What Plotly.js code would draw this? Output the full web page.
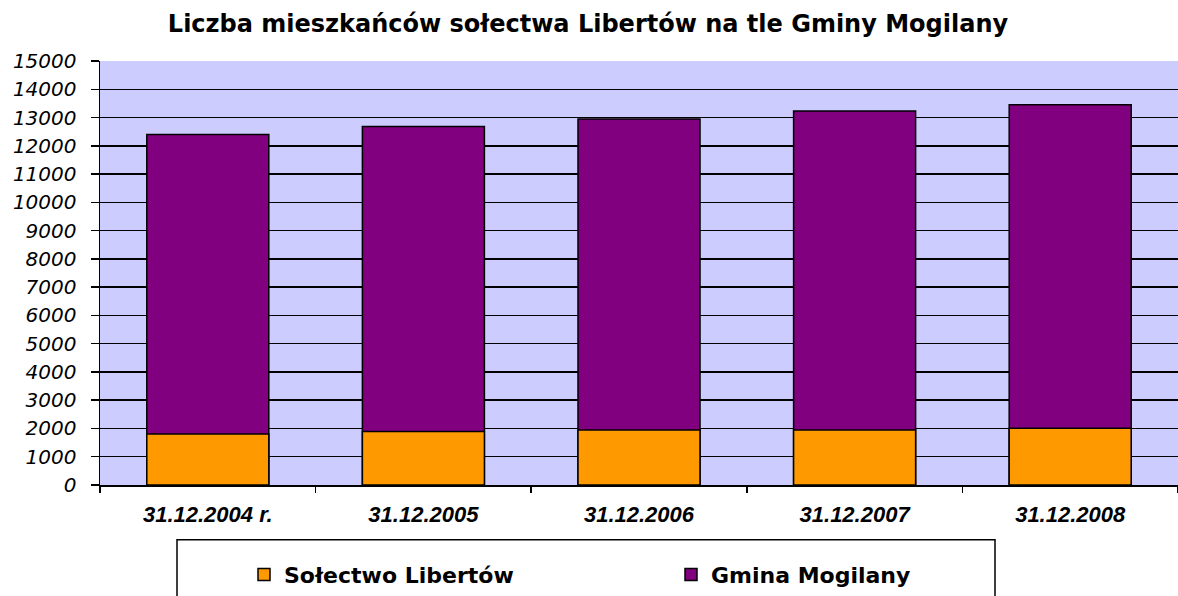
<!DOCTYPE html>
<html>
<head>
<meta charset="utf-8">
<script src="https://cdn.plot.ly/plotly-3.0.1.min.js"></script>
<style>html,body{margin:0;padding:0;background:#fff}#chart{width:1178px;height:596px}</style>
</head>
<body>
<div id="chart"></div>
<script>
var categories = ["31.12.2004 r.", "31.12.2005", "31.12.2006", "31.12.2007", "31.12.2008"];
var solectwoLibertow = [1800, 1890, 1950, 1950, 2005];
var gminaMogilany = [12400, 12680, 12950, 13230, 13450];
var yTickValues = [0,1000,2000,3000,4000,5000,6000,7000,8000,9000,10000,11000,12000,13000,14000,15000];
var seriesNames = ["Sołectwo Libertów", "Gmina Mogilany"];
var chartTitle = "Liczba mieszkańców sołectwa Libertów na tle Gminy Mogilany";

var FONT = "Liberation Sans, Arial, sans-serif";
var WIDE = "DejaVu Sans, Verdana, sans-serif";

var traces = [
  {
    type: "bar", name: seriesNames[1], x: categories, y: gminaMogilany,
    marker: {color: "#800080", line: {color: "#000", width: 1.5}},
    legendrank: 2, hoverinfo: "x+y+name"
  },
  {
    type: "bar", name: seriesNames[0], x: categories, y: solectwoLibertow,
    marker: {color: "#FF9900", line: {color: "#000", width: 1.5}},
    legendrank: 1, hoverinfo: "x+y+name"
  }
];

var layout = {
  width: 1178, height: 596,
  margin: {l: 100, r: 0, t: 61, b: 109},
  paper_bgcolor: "#ffffff",
  plot_bgcolor: "#CCCCFF",
  barmode: "overlay",
  bargap: 0.434,
  showlegend: true,
  font: {family: FONT, color: "#000"},
  title: {
    text: chartTitle,
    font: {family: WIDE, size: 24, weight: "bold", color: "#000"},
    x: 588 / 1178, xref: "container", xanchor: "center",
    y: 1 - 24/596, yref: "container", yanchor: "middle"
  },
  xaxis: {
    type: "category",
    showgrid: false,
    showline: true, linecolor: "#000", linewidth: 1.5,
    ticks: "outside", tickson: "boundaries", ticklen: 6, tickcolor: "#000", tickwidth: 1.5,
    tickfont: {family: FONT, size: 22, weight: "bold", style: "italic", color: "#000"},
    ticklabelstandoff: 9,
    zeroline: false, fixedrange: true
  },
  yaxis: {
    range: [0, 15000],
    tickvals: yTickValues,
    ticktext: yTickValues.map(String),
    showgrid: true, gridcolor: "#000", gridwidth: 1.5,
    showline: true, linecolor: "#000", linewidth: 1.5,
    ticks: "outside", ticklen: 8, tickcolor: "#000", tickwidth: 1.5,
    tickfont: {family: WIDE, size: 20, style: "italic", color: "#000"},
    ticklabelstandoff: 10,
    zeroline: false, fixedrange: true
  },
  legend: {
    orientation: "h",
    x: (244 - 100) / 1078, xanchor: "left",
    y: -(577 - 487) / 426, yanchor: "middle",
    bgcolor: "rgba(0,0,0,0)", borderwidth: 0,
    font: {family: WIDE, size: 22, weight: "bold", color: "#000"},
    entrywidth: 382, entrywidthmode: "pixels",
    itemwidth: 30, traceorder: "normal"
  },
  shapes: [
    {type: "rect", xref: "paper", yref: "paper",
     x0: (177 - 100) / 1078, x1: (995 - 100) / 1078,
     y0: -(542 - 487) / 426, y1: -(620 - 487) / 426,
     line: {color: "#000", width: 1.5}, fillcolor: "rgba(0,0,0,0)", layer: "above"}
  ]
};

Plotly.newPlot("chart", traces, layout, {displayModeBar: false, staticPlot: true});
</script>
</body>
</html>
